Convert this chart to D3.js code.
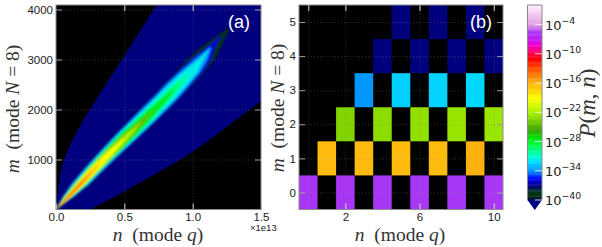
<!DOCTYPE html>
<html>
<head>
<meta charset="utf-8">
<script src="https://cdn.jsdelivr.net/npm/d3@7"></script>
<style>
html, body { margin: 0; padding: 0; background: #fff; overflow: hidden; }
text { font-family: "Liberation Sans", sans-serif; fill: #222; }
.tex { font-family: "Liberation Serif", serif; fill: #333; }
.tex .it { font-style: italic; }
</style>
</head>
<body>
<svg id="chart" width="602" height="247"></svg>
<script>
// colour map of the colorbar: log10 P -> colour
var cmapLog = [0, -2, -4, -5.5, -7, -8, -10, -11, -13, -16, -18, -19, -22, -24, -25.5, -27, -28.5, -31, -32, -34, -35.5, -37, -38, -39, -40];
var cmapCol = ["#fbeefa", "#f3c6ee", "#e39be3", "#a838f5", "#c318f0", "#f000d8", "#ff0040", "#ff0000", "#ff5000", "#ffb810", "#ffe000", "#ffff00", "#a8f000", "#70c800", "#40a000", "#00e000", "#00ff40", "#00ffd0", "#00e0ff", "#0090ff", "#0000ff", "#000080", "#003030", "#003000", "#000060"];
var underCol = "#00007f";

// panel (a), n in units of 1e13
var envelope = [[0, 0], [0.006, 200], [0.015, 390], [0.05, 920], [0.146, 1520], [0.322, 2320], [0.498, 3060], [0.74, 4090], [0.8, 4300], [1.7, 4300], [1.7, 2480], [1.5, 2160], [1.0, 1160], [0.498, 360], [0.25, 0]];
var ridgeM = [0, 250, 500, 750, 1000, 1250, 1500, 1750, 2000, 2250, 2500, 2750, 3000, 3250, 3500, 3650];
var ridgeN = [0, 0.088, 0.176, 0.26, 0.348, 0.439, 0.531, 0.626, 0.717, 0.809, 0.893, 0.981, 1.061, 1.135, 1.222, 1.274];
// half widths of each contour along the ridge, in units of 1e11
var contourLog = [-38.5, -36, -33.5, -31.5, -29.5, -27.5, -24.5, -22, -19, -16, -13];
var contourWidth = [
  [0, 4.4, 7.3, 8, 8.8, 9.5, 10.2, 10.6, 11, 11, 11, 10.6, 10.2, 7.3, 2.9, 0],
  [0, 4, 6.8, 7.5, 8.2, 8.9, 9.5, 9.9, 10.2, 10.2, 9.9, 9.2, 7.3, 2.9, 0],
  [0, 3.5, 6, 6.7, 7.3, 8, 8.6, 8.8, 8.8, 8.6, 8.2, 7.2, 4.5, 0],
  [0, 3.2, 5.3, 6, 6.5, 7.2, 7.7, 7.7, 7.5, 7.4, 6.8, 5.2, 1.5, 0],
  [0, 2.9, 4.6, 5.2, 5.8, 6.4, 6.8, 6.5, 5.4, 4.4, 2.8, 0],
  [0, 2.5, 4, 4.6, 5, 5.4, 5.3, 4.5, 3.5, 1.9, 0],
  [0, 2.3, 3.7, 4.3, 4.6, 4.6, 3.6, 2.4, 0],
  [0, 2.1, 3.5, 4, 4.4, 3.8, 2.4, 0],
  [0, 1.8, 3, 3.4, 2.8, 1.5, 0],
  [0, 1.3, 2, 1.6, 0],
  [0, 0.8, 0.8, 0]
];

// panel (b), log10 P for each m row, n = first, first + 2, ...
var rowFirstN = [0, 1, 2, 3, 4, 5];
var rowLog = [
  [-5.6, -5.6, -5.5, -5.5, -5.5, -5.5],
  [-16.2, -16.2, -16.2, -16.2, -15.8],
  [-23.4, -23, -22.8, -22.6, -22.5],
  [-33.8, -32.4, -32.3, -32.2],
  [-41, -41, -41, -41],
  [-41, -41, -41]
];

var ticksA_x = [0, 0.5, 1.0, 1.5];
var ticksA_y = [1000, 2000, 3000, 4000];
var ticksB_x = [0, 2, 6, 10];
var labelsB_x = [2, 6, 10];
var ticksB_y = [0, 1, 2, 3, 4, 5];
var barTicks = [-4, -10, -16, -22, -28, -34, -40];

var svg = d3.select("#chart"),
    top_ = 5, bottom = 209.5;

var color = d3.scaleLinear().domain(cmapLog).range(cmapCol).clamp(true);
function col(v) { return v < -40 ? underCol : color(v); }

var defs = svg.append("defs");
defs.append("filter").attr("id", "soft").attr("x", "-20%").attr("y", "-20%").attr("width", "140%").attr("height", "140%")
    .append("feGaussianBlur").attr("stdDeviation", 0.8);
defs.append("clipPath").attr("id", "clipA").append("rect")
    .attr("x", 56).attr("y", top_).attr("width", 205).attr("height", bottom - top_);

var xA = d3.scaleLinear().domain([0, 1.5]).range([56, 261]);
var yA = d3.scaleLinear().domain([0, 4090]).range([bottom, top_]);
var xB = d3.scaleLinear().domain([-0.5, 10.5]).range([299, 503]);
var yB = d3.scaleLinear().domain([-0.5, 5.5]).range([bottom, top_]);

function panel(x, y) {
    svg.append("rect")
        .attr("x", x.range()[0]).attr("y", top_)
        .attr("width", x.range()[1] - x.range()[0]).attr("height", bottom - top_)
        .attr("fill", "#000");
}

function furniture(x, y, xt, yt, xl, xfmt, yfmt) {
    var w = x.range()[1] - x.range()[0], h = bottom - top_, x0 = x.range()[0], x1 = x.range()[1];
    // dotted grid
    var gx = svg.append("g").attr("transform", "translate(0," + bottom + ")")
        .call(d3.axisBottom(x).tickValues(xt).tickSize(-h).tickFormat(""));
    var gy = svg.append("g").attr("transform", "translate(" + x0 + ",0)")
        .call(d3.axisLeft(y).tickValues(yt).tickSize(-w).tickFormat(""));
    [gx, gy].forEach(function(g) {
        g.select(".domain").remove();
        g.selectAll("line").attr("stroke", "#8a8a8a").attr("stroke-opacity", 0.5).attr("stroke-width", 0.7).attr("stroke-dasharray", "1,2");
    });
    // inward ticks, all four sides
    var sides = [
        [d3.axisBottom(x).tickValues(xl), "translate(0," + bottom + ")", xfmt],
        [d3.axisTop(x).tickValues(xt), "translate(0," + top_ + ")", ""],
        [d3.axisLeft(y).tickValues(yt), "translate(" + x0 + ",0)", yfmt],
        [d3.axisRight(y).tickValues(yt), "translate(" + x1 + ",0)", ""]
    ];
    sides.forEach(function(s, i) {
        var g = svg.append("g").attr("transform", s[1])
            .call(s[0].tickSize(-6).tickPadding(3).tickFormat(s[2] === "" ? "" : s[2]));
        g.select(".domain").remove();
        g.selectAll("line").attr("stroke", i >= 2 ? "#a0a0a0" : "#d8d8d8").attr("stroke-width", 1);
        g.selectAll("text").style("font-family", "'Liberation Sans', sans-serif").attr("font-size", 11.5).attr("fill", "#222");
    });
    svg.append("rect")
        .attr("x", x0).attr("y", top_).attr("width", w).attr("height", h)
        .attr("fill", "none").attr("stroke", "#8c8c8c").attr("stroke-width", 1);
}

function texLabel(px, py, rotate, size, parts) {
    var t = svg.append("text").attr("class", "tex")
        .attr("text-anchor", "middle").attr("font-size", size)
        .attr("transform", "translate(" + px + "," + py + ")" + (rotate ? " rotate(-90)" : ""));
    parts.forEach(function(p) {
        t.append("tspan").attr("class", p[1] ? "it" : null).attr("xml:space", "preserve").text(p[0]);
    });
}

// panel (a)
panel(xA, yA);
var gA = svg.append("g").attr("clip-path", "url(#clipA)");
var line = d3.line().x(function(d) { return xA(d[0]); }).y(function(d) { return yA(d[1]); });
gA.append("path").datum(envelope).attr("fill", underCol)
    .attr("d", function(d) { return line.curve(d3.curveCatmullRom)(d) + "Z"; });
line.curve(d3.curveLinear);
var ridge = gA.append("g").attr("filter", "url(#soft)");
contourWidth.forEach(function(widths, i) {
    var left = widths.map(function(w, k) { return [ridgeN[k] - w / 100, ridgeM[k]]; });
    var right = widths.map(function(w, k) { return [ridgeN[k] + w / 100, ridgeM[k]]; }).reverse();
    ridge.append("path").datum(left.concat(right))
        .attr("fill", col(contourLog[i]))
        .attr("d", function(d) { return line(d) + "Z"; });
});
furniture(xA, yA, ticksA_x.slice(1, 3), ticksA_y, ticksA_x, d3.format(".1f"), d3.format("d"));
svg.append("text").attr("x", 228).attr("y", 28).attr("font-size", 18).style("fill", "#fff").text("(a)");
svg.append("text").attr("x", 250).attr("y", 231).attr("font-size", 9.5).text("\u00d71e13");

// panel (b)
panel(xB, yB);
var cells = [];
rowLog.forEach(function(vals, m) {
    vals.forEach(function(v, k) { cells.push({n: rowFirstN[m] + 2 * k, m: m, v: v}); });
});
svg.append("g").selectAll("rect").data(cells).join("rect")
    .attr("x", function(d) { return xB(d.n - 0.5); })
    .attr("y", function(d) { return yB(d.m + 0.5); })
    .attr("width", xB(1) - xB(0))
    .attr("height", yB(0) - yB(1))
    .attr("fill", function(d) { return col(d.v); });
furniture(xB, yB, ticksB_x, ticksB_y, labelsB_x, d3.format("d"), d3.format("d"));
svg.append("text").attr("x", 470).attr("y", 28).attr("font-size", 18).style("fill", "#fff").text("(b)");

// axis titles
var nTitle = [["n", 1], ["  (mode ", 0], ["q", 1], [")", 0]];
var mTitle = [["m", 1], ["  (mode ", 0], ["N", 1], [" = 8)", 0]];
texLabel(158, 241, false, 19.5, nTitle);
texLabel(400, 241, false, 19.5, nTitle);
texLabel(19, 109, true, 19.5, mTitle);
texLabel(284, 108, true, 19.5, mTitle);

// colorbar
var yC = d3.scaleLinear().domain([0, -40]).range([5, 200]);
var barX = 527.5, barW = 14.5;
svg.append("g").selectAll("rect").data(d3.range(0, -40, -0.25)).join("rect")
    .attr("x", barX).attr("width", barW)
    .attr("y", function(d) { return yC(d); })
    .attr("height", yC(-0.25) - yC(0) + 0.4)
    .attr("fill", function(d) { return color(d); });
svg.append("path")
    .attr("d", d3.line()([[barX, yC(-40)], [barX + barW, yC(-40)], [barX + barW / 2, 210]]) + "Z")
    .attr("fill", underCol);
svg.append("path")
    .attr("d", d3.line()([[barX, yC(-40)], [barX, yC(0)], [barX + barW, yC(0)], [barX + barW, yC(-40)]]))
    .attr("fill", "none").attr("stroke", "#888").attr("stroke-width", 1);
var tk = svg.append("g").selectAll("g").data(barTicks).join("g")
    .attr("transform", function(d) { return "translate(0," + yC(d) + ")"; });
tk.append("line").attr("x1", barX + barW - 7).attr("x2", barX + barW).attr("stroke", "#fff").attr("stroke-opacity", 0.8);
var tkText = tk.append("text").attr("x", 545).attr("y", 5).attr("font-size", 13).style("font-family", "'DejaVu Sans'");
tkText.append("tspan").text("10");
tkText.append("tspan").attr("font-size", 9.3).attr("dy", -6).text(function(d) { return "\u2212" + (-d); });
texLabel(595, 103, true, 23, [["P", 1], ["(", 0], ["m", 1], [", ", 0], ["n", 1], [")", 0]]);
</script>
</body>
</html>
